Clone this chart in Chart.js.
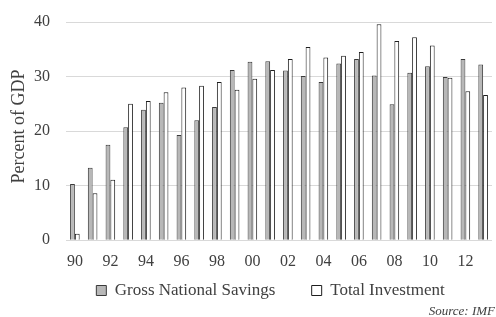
<!DOCTYPE html>
<html>
<head>
<meta charset="utf-8">
<script src="https://cdn.jsdelivr.net/npm/chart.js@4"></script>
<style>
  html, body { margin: 0; padding: 0; background: #fff; }
  #wrap { width: 496px; height: 317px; }
</style>
</head>
<body>
<div id="wrap"><canvas id="savingsChart"></canvas></div>
<script>
// === DATA (percent of GDP) ===
const years = ['90', '91', '92', '93', '94', '95', '96', '97', '98', '99', '00', '01',
               '02', '03', '04', '05', '06', '07', '08', '09', '10', '11', '12', '13'];
const grossSavings = [10.3, 13.3, 17.5, 20.7, 23.9, 25.2, 19.3, 22.0, 24.4, 31.2, 32.7, 32.8,
                      31.1, 30.1, 29.0, 32.4, 33.2, 30.2, 24.9, 30.7, 31.9, 29.9, 33.2, 32.2];
const totalInvestment = [1.2, 8.6, 11.1, 25.0, 25.5, 27.1, 28.0, 28.3, 29.0, 27.6, 29.6, 31.2,
                         33.2, 35.4, 33.5, 33.8, 34.5, 39.6, 36.5, 37.2, 35.7, 29.8, 27.3, 26.6];
const yTicks = [0, 10, 20, 30, 40];
const sourceNote = 'Source: IMF';

const SERIF = "'Liberation Serif', 'DejaVu Serif', serif";
const TEXT = '#404040';
Chart.defaults.font.family = SERIF;
Chart.defaults.font.size = 16;
Chart.defaults.color = TEXT;

// source line in the bottom right corner
const sourcePlugin = {
    id: 'sourceNote',
    afterDraw(c) {
        const g = c.ctx;
        g.save();
        g.font = 'italic 13px ' + SERIF;
        g.fillStyle = TEXT;
        g.textAlign = 'right';
        g.textBaseline = 'middle';
        g.fillText(sourceNote, c.width - 1, 312);
        g.restore();
    }
};

const ctx = document.getElementById('savingsChart').getContext('2d');
const chart = new Chart(ctx, {
    type: 'bar',
    data: {
        labels: years,
        datasets: [
            { label: 'Gross National Savings', data: grossSavings, backgroundColor: '#b8b8b8', borderColor: '#3a3a3a', borderWidth: 1,
              categoryPercentage: 0.54, barPercentage: 1 },
            { label: 'Total Investment', data: totalInvestment, backgroundColor: '#ffffff', borderColor: '#1e1e1e', borderWidth: 1,
              categoryPercentage: 0.54, barPercentage: 1 }
        ]
    },
    plugins: [sourcePlugin],
    options: {
        responsive: true, maintainAspectRatio: false, animation: false,
        layout: { padding: { top: 22, right: 4, left: 8, bottom: 8 } },
        plugins: {
            legend: {
                position: 'bottom', fullSize: false,
                labels: {
                    color: TEXT, boxWidth: 10, boxHeight: 10, padding: 10.8,
                    font: { family: SERIF, size: 17 },
                    generateLabels: c => c.data.datasets.map((ds, i) => ({
                        text: i === 0 ? ds.label + '\u2003\u2002' : ds.label + '\u2003',
                        fillStyle: ds.backgroundColor, strokeStyle: ds.borderColor, lineWidth: 1,
                        fontColor: TEXT, datasetIndex: i, hidden: false
                    }))
                }
            },
            tooltip: { enabled: false }
        },
        scales: {
            x: {
                grid: { display: false, drawTicks: false }, border: { display: false },
                afterFit: axis => { axis.height = 31; },
                ticks: {
                    color: TEXT, font: { size: 16 }, autoSkip: false, maxRotation: 0, padding: 12,
                    callback: (v, i) => i % 2 === 0 ? years[i] : ''
                }
            },
            y: {
                min: 0, max: 40,
                afterBuildTicks: axis => { axis.ticks = yTicks.map(v => ({ value: v })); },
                afterFit: axis => { axis.width = 58; axis.paddingTop = 0; },
                grid: { color: '#d9d9d9', drawTicks: false }, border: { display: false },
                ticks: { color: TEXT, font: { size: 16 }, padding: 16 },
                title: { display: true, text: '\u2002Percent of GDP', color: TEXT, font: { size: 18 }, padding: { top: 0, bottom: 7 } }
            }
        }
    }
});
</script>
</body>
</html>
